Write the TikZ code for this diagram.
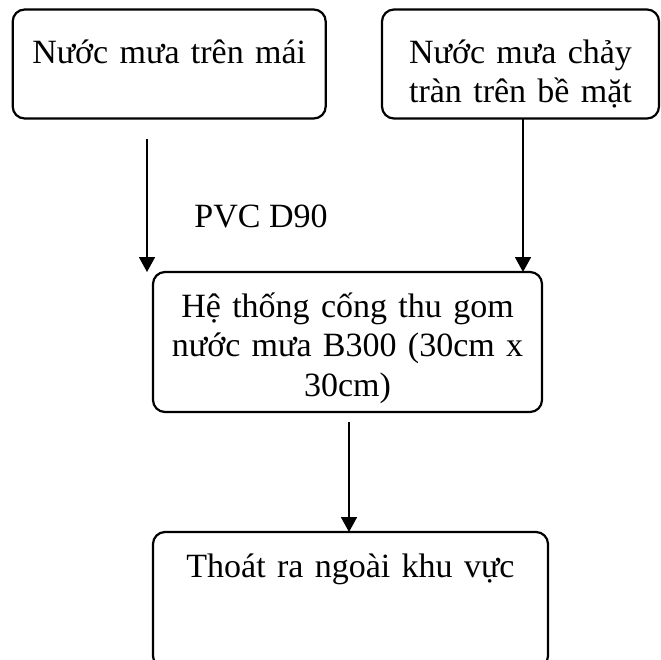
\documentclass[tikz,border=0pt]{standalone}
\usepackage{fontspec}
\setmainfont{Liberation Serif}
\usepackage{tikz}
\usetikzlibrary{arrows.meta, positioning}

\begin{document}
\begin{tikzpicture}[x=1pt, y=-1pt,
  >={Triangle[width=16pt, length=15pt]},
  font=\fontsize{34}{39.5}\selectfont,
  flowbox/.style={draw, line width=2.2pt, rounded corners=12pt,
    anchor=north west, inner sep=0pt, outer sep=0pt, align=center},
  flow/.style={draw, line width=1.8pt, ->}]
  \useasboundingbox (0,0) rectangle (661,659);
  \clip (0,0) rectangle (661,659);

  % sources
  \node[flowbox, text width=313pt, text height=53.5pt, text depth=55.5pt]
    (roofrain) at (12.7,9.5) {Nước mưa trên mái};
  \node[flowbox, text width=277pt, text height=53.5pt, text depth=55.5pt]
    (runoff) at (382,9.5) {Nước mưa chảy\\tràn trên bề mặt};

  % collector and outlet
  \node[flowbox, text width=389pt, text height=45pt, text depth=95pt]
    (culvert) at (153,272) {Hệ thống cống thu gom\\nước mưa B300 (30cm x\\30cm)};
  \node[flowbox, text width=395pt, text height=45pt, text depth=91pt]
    (outlet) at (153,532) {Thoát ra ngoài khu vực};

  \node[anchor=base, inner sep=0pt] (pipe) at (261,227) {PVC D90};

  % connectors
  \coordinate (downpipe) at (147,139);
  \coordinate (drain) at (349,422);
  \draw[flow] (downpipe) -- (downpipe |- culvert.north);
  \draw[flow] ([xshift=2.5pt]runoff.south) -- ([xshift=2.5pt]runoff.south |- culvert.north);
  \draw[flow] (drain) -- (drain |- outlet.north);
\end{tikzpicture}
\end{document}
